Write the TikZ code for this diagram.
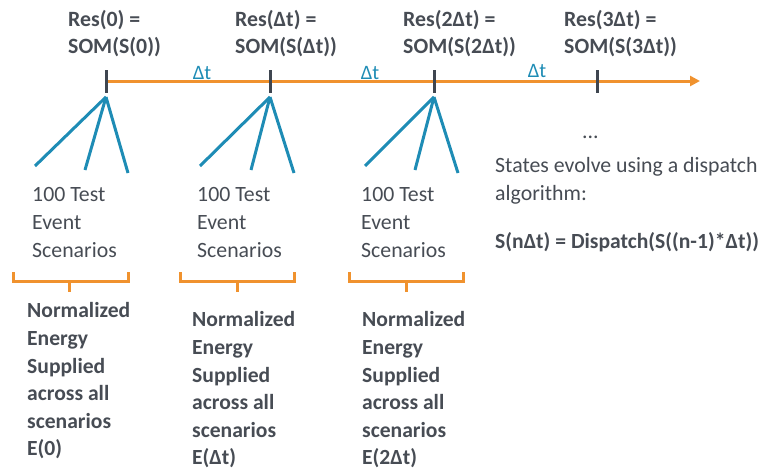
\documentclass[tikz,border=0pt]{standalone}
\usepackage{fontspec}
\setmainfont{Carlito}
\usetikzlibrary{arrows.meta}
\definecolor{txtgray}{HTML}{474C54}
\definecolor{tickgray}{HTML}{3F4650}
\definecolor{lineorange}{HTML}{F0922E}
\definecolor{lineblue}{HTML}{1E8CB5}
\tikzset{
  reslabel/.style={anchor=west,inner sep=0pt,align=left,text=txtgray,font=\fontsize{21.8}{27}\selectfont\bfseries},
  testlabel/.style={anchor=west,inner sep=0pt,align=left,text=txtgray,font=\fontsize{21.8}{28}\selectfont},
  energylabel/.style={anchor=west,inner sep=0pt,align=left,text=txtgray,font=\fontsize{21.6}{27.6}\selectfont\bfseries},
  dtlabel/.style={inner sep=0pt,text=lineblue,font=\fontsize{20.5}{22}\selectfont},
  timeline/.style={draw=lineorange,line width=3pt,-{Triangle[length=10pt,width=10pt]}},
  tickmark/.style={draw=tickgray,line width=3pt},
  fanline/.style={draw=lineblue,line width=3pt},
  bracket/.style={draw=lineorange,line width=3pt}
}
\begin{document}
\begin{tikzpicture}[x=1pt,y=-1pt]
\useasboundingbox (0,0) rectangle (773,472);
% timeline
\coordinate (t0) at (106,81);
\coordinate (t1) at (270,81);
\coordinate (t2) at (434,81);
\coordinate (t3) at (597,81);
\coordinate (tend) at (700,81);
\draw[timeline] (t0) -- (tend);
\foreach \i in {0,1,2,3} \draw[tickmark] ([yshift=11pt]t\i) -- ([yshift=-12pt]t\i);
% delta t labels
\node[dtlabel] (dt1) at (202,73) {Δt};
\node[dtlabel] (dt2) at (370,73) {Δt};
\node[dtlabel] (dt3) at (537,71) {Δt};
% res labels
\node[reslabel] (r0) at (68,33.5) {Res(0) =\\SOM(S(0))};
\node[reslabel] (r1) at (235,33.5) {Res(Δt) =\\SOM(S(Δt))};
\node[reslabel] (r2) at (403,33.5) {Res(2Δt) =\\SOM(S(2Δt))};
\node[reslabel] (r3) at (564,33.5) {Res(3Δt) =\\SOM(S(3Δt))};
% fans
\coordinate (a0) at (106,97);
\coordinate (a1) at (270,97);
\coordinate (a2) at (434,97);
\coordinate (e0a) at (35,166);  \coordinate (e0b) at (85,170);  \coordinate (e0c) at (128,173);
\coordinate (e1a) at (200,166); \coordinate (e1b) at (251,170); \coordinate (e1c) at (294,173);
\coordinate (e2a) at (365,166); \coordinate (e2b) at (415,170); \coordinate (e2c) at (458,173);
\foreach \i in {0,1,2} {
  \draw[fanline] (a\i) -- (e\i a);
  \draw[fanline] (a\i) -- (e\i b);
  \draw[fanline] (a\i) -- (e\i c);
}
% test scenario labels
\node[testlabel] (s0) at (32,222) {100 Test\\Event\\Scenarios};
\node[testlabel] (s1) at (197,222) {100 Test\\Event\\Scenarios};
\node[testlabel] (s2) at (361,222) {100 Test\\Event\\Scenarios};
% brackets
\draw[bracket] (13,272) -- (13,281) -- (128,281) -- (128,272);
\draw[bracket] (69,281) -- (69,292);
\draw[bracket] (180,272) -- (180,281) -- (294,281) -- (294,272);
\draw[bracket] (237,281) -- (237,292);
\draw[bracket] (349,272) -- (349,281) -- (463,281) -- (463,272);
\draw[bracket] (406,281) -- (406,292);
% energy labels
\node[energylabel] (n0) at (27,381) {Normalized\\Energy\\Supplied\\across all\\scenarios\\E(0)};
\node[energylabel] (n1) at (192,390) {Normalized\\Energy\\Supplied\\across all\\scenarios\\E(Δt)};
\node[energylabel] (n2) at (362,390) {Normalized\\Energy\\Supplied\\across all\\scenarios\\E(2Δt)};
% right side text
\node[testlabel] (dots) at (582,137) {...};
\node[testlabel] (evolve) at (495,181) {States evolve using a dispatch\\algorithm:};
\node[energylabel] (formula) at (495,242) {S(nΔt) = Dispatch(S((n-1)*Δt))};
\end{tikzpicture}
\end{document}
